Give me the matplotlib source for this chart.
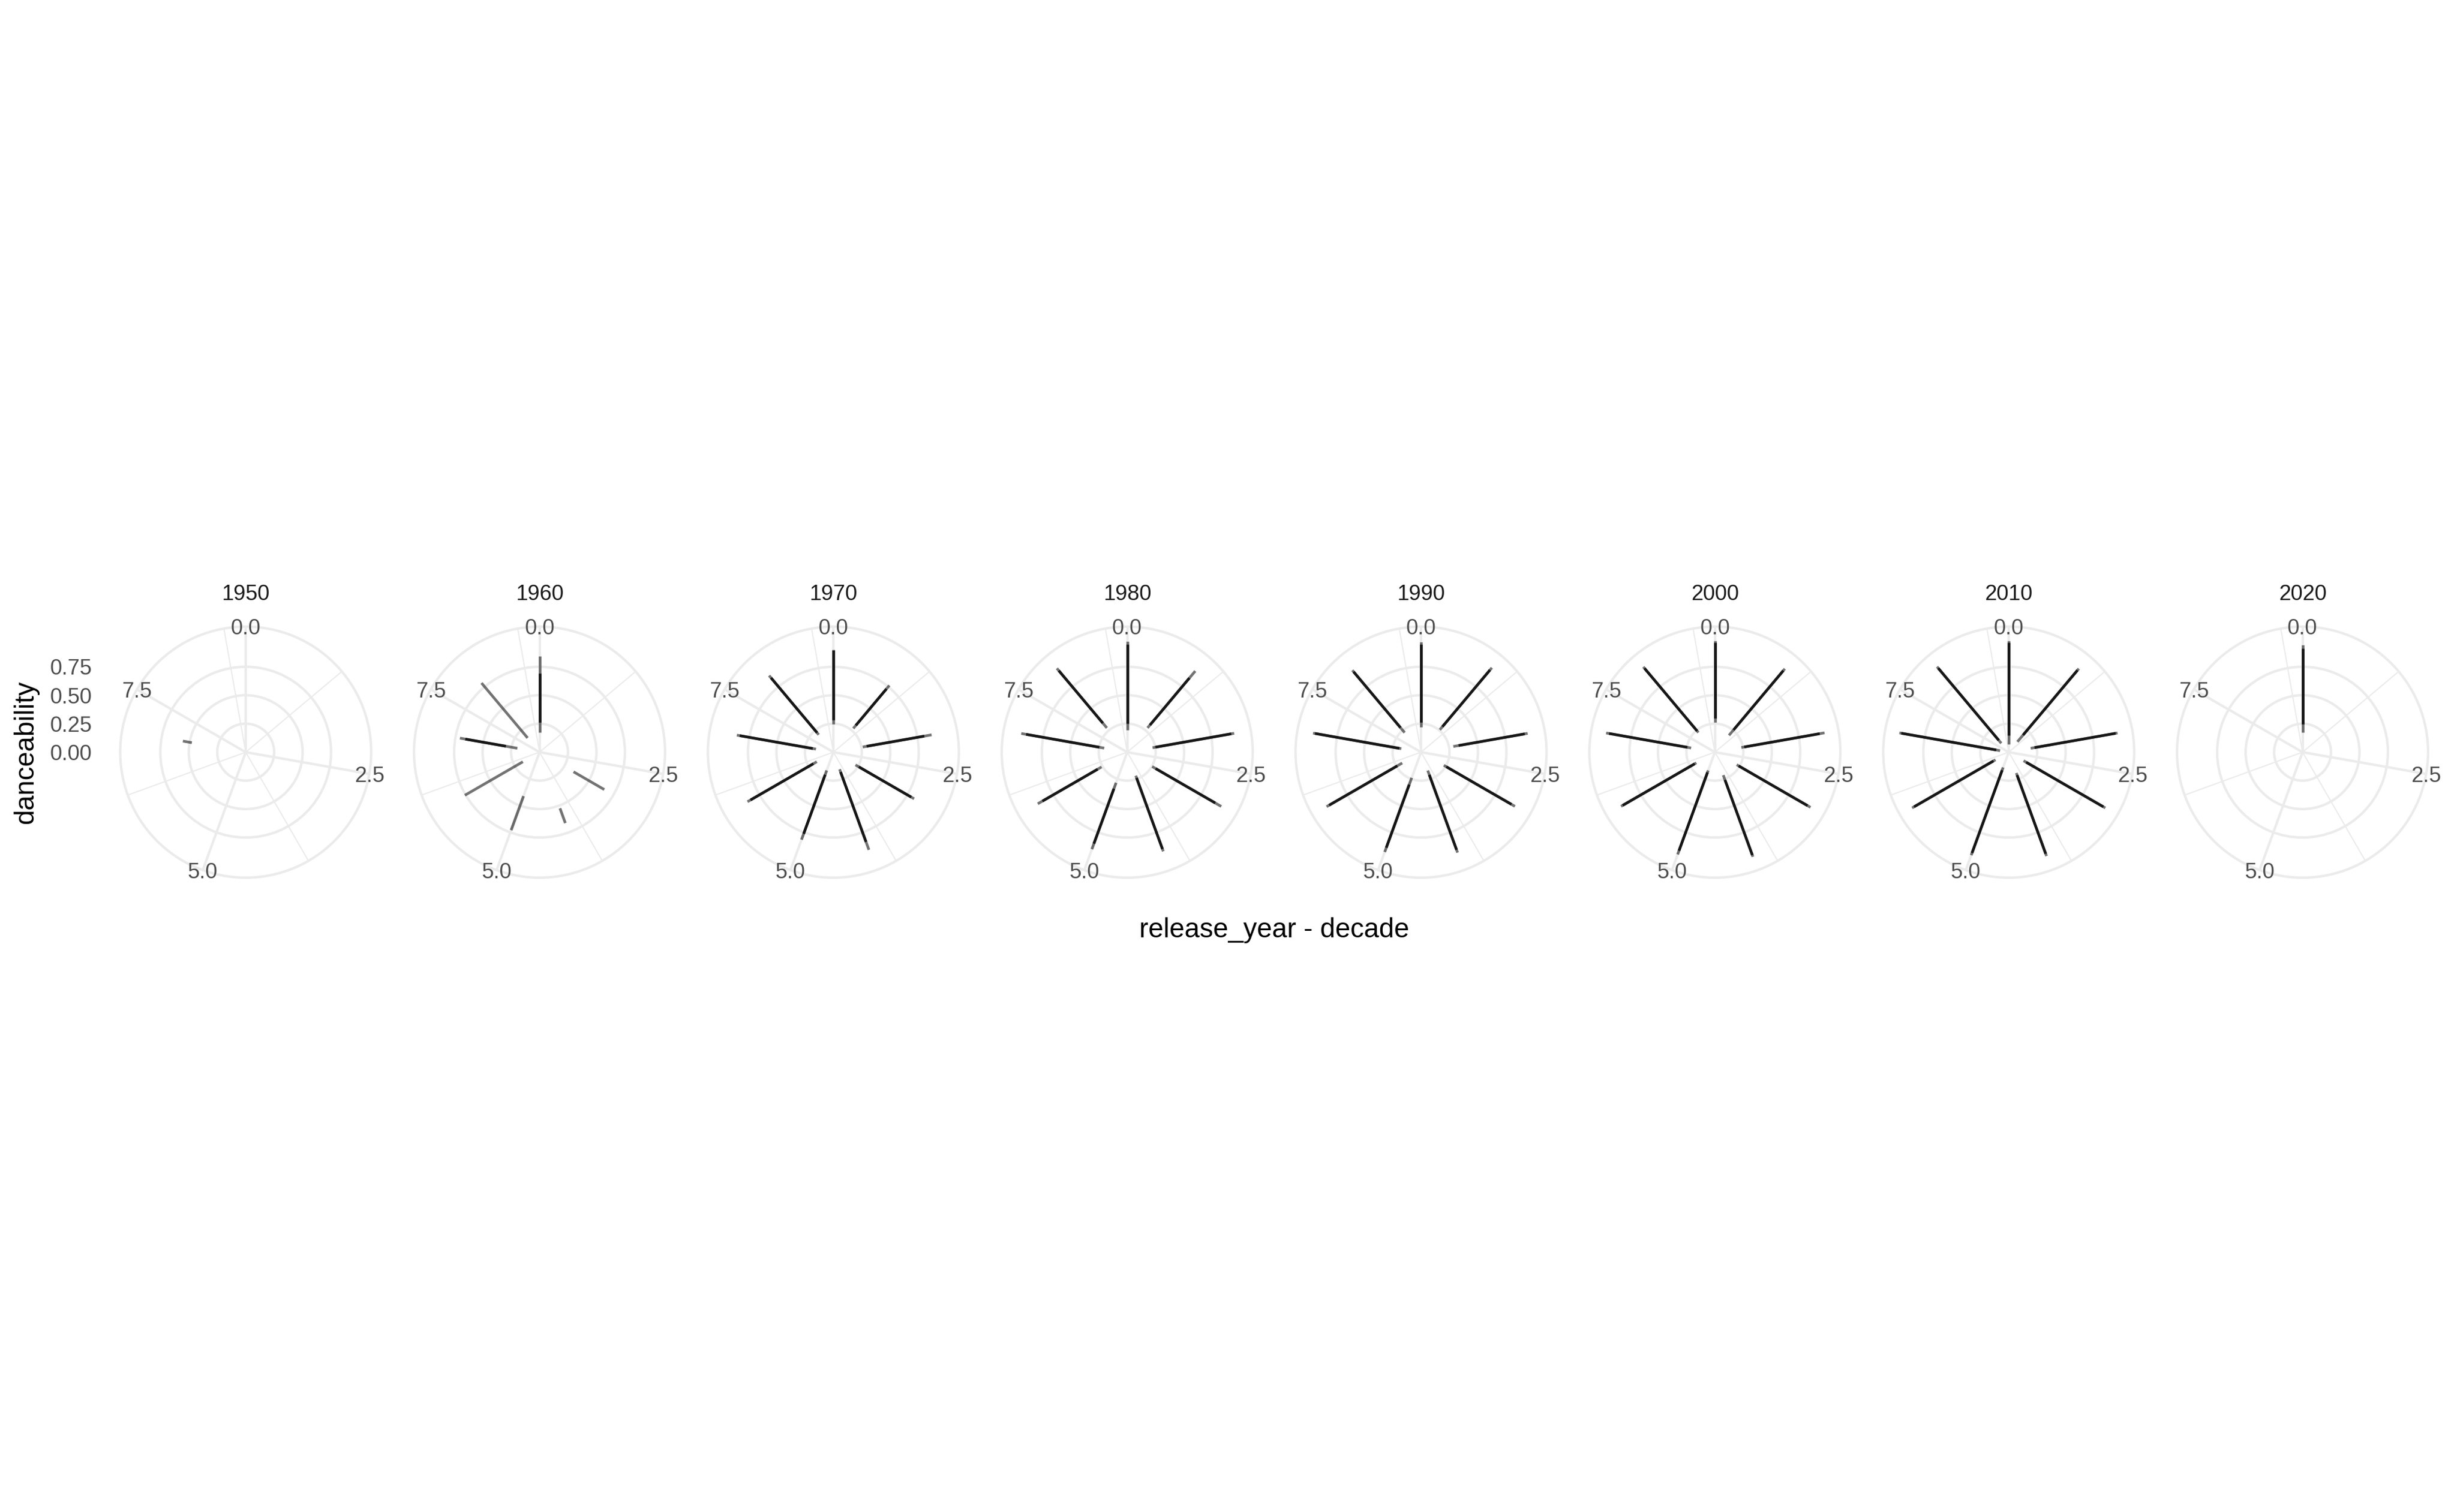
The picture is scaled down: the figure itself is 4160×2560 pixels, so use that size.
import numpy as np
import matplotlib
matplotlib.use("Agg")
import matplotlib.pyplot as plt
from matplotlib.ticker import FixedLocator, NullFormatter
from matplotlib.transforms import IdentityTransform

plt.rcParams['font.family'] = ['Liberation Sans', 'DejaVu Sans']

N = np.nan
decades = [1950, 1960, 1970, 1980, 1990, 2000, 2010, 2020]
year_offsets = list(range(9))          # release_year - decade (9 wraps onto 0)
theta_limits = (0, 9)
theta_major = [0.0, 2.5, 5.0, 7.5]
theta_major_labels = ["0.0", "2.5", "5.0", "7.5"]
theta_minor = [1.25, 3.75, 6.25, 8.75]
r_limits = (0.0, 0.98)                 # danceability scale range
r_breaks = [0.00, 0.25, 0.50, 0.75]
r_break_labels = ["0.00", "0.25", "0.50", "0.75"]

# full danceability range for each year offset (0..8)
lo_1950 = [N, N, N, N, N, N, N, 0.480, N]
hi_1950 = [N, N, N, N, N, N, N, 0.560, N]
clo_1950 = [N] * 9
chi_1950 = [N] * 9

lo_1960 = [0.176, N, N, 0.345, 0.525, 0.411, 0.169, 0.198, 0.163]
hi_1960 = [0.842, N, N, 0.657, 0.663, 0.729, 0.757, 0.710, 0.793]
clo_1960 = [0.262, N, N, N, N, N, N, 0.300, N]
chi_1960 = [0.695, N, N, N, N, N, N, 0.662, N]

lo_1970 = [0.248, 0.272, 0.262, 0.224, 0.160, 0.171, 0.168, 0.155, 0.200]
hi_1970 = [0.902, 0.765, 0.876, 0.819, 0.913, 0.818, 0.871, 0.861, 0.878]
clo_1970 = [0.283, 0.307, 0.297, 0.259, 0.186, 0.211, 0.203, 0.184, 0.223]
chi_1970 = [0.895, 0.725, 0.811, 0.790, 0.839, 0.763, 0.840, 0.835, 0.852]

lo_1980 = [0.193, 0.278, 0.226, 0.253, 0.220, 0.286, 0.260, 0.205, 0.278]
hi_1980 = [0.975, 0.930, 0.954, 0.954, 0.927, 0.907, 0.907, 0.945, 0.961]
clo_1980 = [0.253, 0.311, 0.252, 0.288, 0.241, 0.342, 0.300, 0.249, 0.333]
chi_1980 = [0.946, 0.850, 0.928, 0.893, 0.906, 0.855, 0.860, 0.902, 0.935]

lo_1990 = [0.219, 0.257, 0.288, 0.231, 0.172, 0.240, 0.191, 0.176, 0.224]
hi_1990 = [0.968, 0.968, 0.951, 0.952, 0.939, 0.933, 0.958, 0.963, 0.939]
clo_1990 = [0.262, 0.292, 0.335, 0.257, 0.212, 0.304, 0.241, 0.193, 0.281]
chi_1990 = [0.945, 0.942, 0.925, 0.917, 0.913, 0.893, 0.932, 0.946, 0.922]

lo_2000 = [0.262, 0.193, 0.236, 0.221, 0.215, 0.171, 0.188, 0.212, 0.225]
hi_2000 = [0.978, 0.956, 0.978, 0.970, 0.978, 0.956, 0.952, 0.970, 0.978]
clo_2000 = [0.297, 0.255, 0.262, 0.242, 0.260, 0.189, 0.205, 0.246, 0.243]
chi_2000 = [0.963, 0.935, 0.935, 0.940, 0.962, 0.921, 0.935, 0.944, 0.962]

lo_2010 = [0.072, 0.119, 0.196, 0.151, 0.195, 0.143, 0.134, 0.077, 0.102]
hi_2010 = [0.980, 0.958, 0.971, 0.980, 0.971, 0.963, 0.980, 0.975, 0.980]
clo_2010 = [0.150, 0.196, 0.230, 0.177, 0.215, 0.169, 0.155, 0.111, 0.136]
chi_2010 = [0.963, 0.940, 0.954, 0.960, 0.950, 0.942, 0.960, 0.958, 0.963]

lo_2020 = [0.175, N, N, N, N, N, N, N, N]
hi_2020 = [0.940, N, N, N, N, N, N, N, N]
clo_2020 = [0.244, N, N, N, N, N, N, N, N]
chi_2020 = [0.910, N, N, N, N, N, N, N, N]

full_lo = [lo_1950, lo_1960, lo_1970, lo_1980, lo_1990, lo_2000, lo_2010, lo_2020]
full_hi = [hi_1950, hi_1960, hi_1970, hi_1980, hi_1990, hi_2000, hi_2010, hi_2020]
core_lo = [clo_1950, clo_1960, clo_1970, clo_1980, clo_1990, clo_2000, clo_2010, clo_2020]
core_hi = [chi_1950, chi_1960, chi_1970, chi_1980, chi_1990, chi_2000, chi_2010, chi_2020]

# ---------------------------------------------------------------- layout
W, H = 4160, 2560
DPI = 300
fig = plt.figure(figsize=(W / DPI, H / DPI), dpi=DPI)
fig.patch.set_facecolor('white')

GRID = '#EBEBEB'
AXTXT = '#4D4D4D'
cx0, dx, cy = 416.0, 497.5, 1273.5     # panel centres in px (from top)
R = 212.5                              # outer circle radius px
r_outer = r_limits[0] + (r_limits[1] - r_limits[0]) * 0.45 / 0.4


def theta(x):
    return 2 * np.pi * (np.asarray(x, dtype=float) - theta_limits[0]) / (theta_limits[1] - theta_limits[0])


axes = []
for i, dec in enumerate(decades):
    cx = cx0 + i * dx
    ax = fig.add_axes([(cx - R) / W, (H - cy - R) / H, 2 * R / W, 2 * R / H],
                      projection='polar')
    ax.set_theta_zero_location('N')
    ax.set_theta_direction(-1)
    ax.set_ylim(r_limits[0], r_outer)
    ax.set_facecolor('white')
    ax.set_axisbelow(True)

    ax.xaxis.set_major_locator(FixedLocator(theta(theta_major)))
    ax.xaxis.set_minor_locator(FixedLocator(theta(theta_minor)))
    ax.xaxis.set_major_formatter(NullFormatter())
    ax.xaxis.set_minor_formatter(NullFormatter())
    ax.yaxis.set_major_locator(FixedLocator(r_breaks[1:]))
    ax.yaxis.set_major_formatter(NullFormatter())
    ax.tick_params(which='both', length=0)
    ax.xaxis.grid(True, which='major', color=GRID, lw=1.0)
    ax.xaxis.grid(True, which='minor', color=GRID, lw=0.5)
    ax.yaxis.grid(True, which='major', color=GRID, lw=1.0)
    ax.spines['polar'].set_color(GRID)
    ax.spines['polar'].set_linewidth(1.0)

    th = theta(year_offsets)
    for k in range(len(year_offsets)):
        a, b = full_lo[i][k], full_hi[i][k]
        if not np.isnan(a):
            ax.plot([th[k], th[k]], [a, b], color='black', alpha=0.55, lw=1.1,
                    solid_capstyle='butt', zorder=3)
        c, d = core_lo[i][k], core_hi[i][k]
        if not np.isnan(c):
            ax.plot([th[k], th[k]], [c, d], color='black', alpha=0.8, lw=1.1,
                    solid_capstyle='butt', zorder=4)

    for tv, tl in zip(theta_major, theta_major_labels):
        ax.text(theta(tv), r_outer, tl, ha='center', va='center_baseline',
                fontsize=8.8, color=AXTXT, clip_on=False, zorder=5)

    fig.text(cx / W, 1 - 1002 / H, str(dec), ha='center', va='center_baseline',
             fontsize=8.8, color='#1A1A1A')
    axes.append(ax)

# radial axis labels on first panel
ax0 = axes[0]
for v, lab in zip(r_breaks, r_break_labels):
    px, py = ax0.transData.transform((0.0, v))
    fig.text(156, py, lab, transform=IdentityTransform(), ha='right',
             va='center_baseline', fontsize=8.8, color=AXTXT)

fig.text(44.6 / W, 1 - 1274 / H, 'danceability', rotation=90, ha='center',
         va='center', fontsize=11, color='black')
fig.text(2157 / W, 1 - 1575 / H, 'release_year - decade', ha='center',
         va='center', fontsize=11, color='black')

fig.savefig('out.png', dpi=DPI, facecolor='white')
